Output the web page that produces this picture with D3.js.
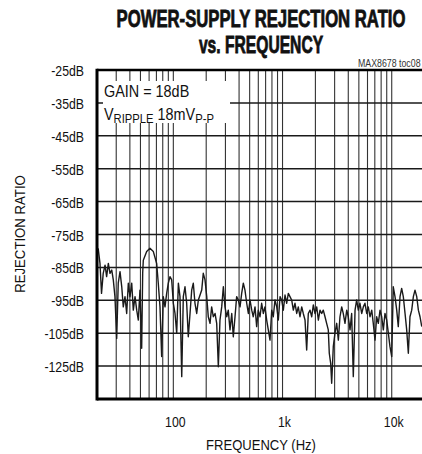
<!DOCTYPE html>
<html><head><meta charset="utf-8">
<script src="https://cdn.jsdelivr.net/npm/d3@7"></script>
<style>
body{margin:0;background:#fff;}
svg{display:block;}
text{font-family:"Liberation Sans",Arial,sans-serif;fill:#111;}
</style></head>
<body>
<svg id="c" width="422" height="454"></svg>
<script>
// ---- data ----
const titleLines = ["POWER-SUPPLY REJECTION RATIO", "vs. FREQUENCY"];
const xTickValues = [100, 1000, 10000];
const xTickLabels = ["100", "1k", "10k"];
const yTickValues = [-25, -35, -45, -55, -65, -75, -85, -95, -105, -115];
const yTickLabels = ["-25dB", "-35dB", "-45dB", "-55dB", "-65dB", "-75dB", "-85dB", "-95dB", "-105dB", "-125dB"];
const xGridValues = [30,40,50,60,70,80,90,100,200,300,400,500,600,700,800,900,1000,2000,3000,4000,5000,6000,7000,8000,9000,10000];
const freq = [20.5,21.3,22.0,22.8,23.7,24.5,25.4,26.3,27.3,28.2,29.2,30.3,31.3,32.5,33.7,34.8,36.1,37.4,38.7,40.1,41.6,43.0,44.6,46.2,47.8,49.5,51.3,52.4,53.1,57.0,61.1,65.6,70.4,72.8,75.5,78.2,80.9,83.9,86.9,90.0,93.2,96.6,100,103.6,107.4,111.2,115.1,119.4,123.4,127.9,132.5,137.1,142.2,147.3,152.4,157.9,163.7,169.5,182,188,195,202.3,209,216.8,224.4,232.3,241,249.5,258.3,267.4,277.4,287.1,297.2,308.4,318.5,330.4,342.8,354.1,367.2,380.1,393.5,408.2,422.6,437.5,452.9,469.9,486.4,503.6,522.4,539.5,559.8,579.5,600,622,644,667,690,716,741,768,796,823,853,885,915,949,982,1017,1054,1092,1130,1170,1213,1256,1301,1349,1394,1445,1499,1549,1607,1664,1722,1786,1850,1915,1982,2056,2129,2204,2285,2361,2449,2535,2625,2680,2761,2819,2917,3021,3133,3245,3358,3483,3598,3732,3873,4000,4150,4296,4448,4614,4775,4943,5117,5309,5495,5689,5902,6096,6325,6561,6777,7031,7278,7534,7818,8093,8377,8672,8994,9311,9638,10000,10330,10715,11112,11480,11912,12330,12766,13243,13709,14193,14693,15241,15777,16334,16943,17541,18158,18836];
const psrr = [-79.2,-83.8,-92.9,-86.8,-84.3,-87.8,-83.8,-86.8,-85.8,-88.8,-93.9,-106.6,-89.8,-86.3,-90.9,-97.0,-93.9,-99.0,-89.8,-93.9,-89.8,-98.0,-93.9,-98.0,-101.0,-91.9,-109.6,-86.8,-82.8,-80.2,-79.2,-80.2,-83.8,-89.8,-97.0,-112.1,-93.9,-97.0,-92.9,-89.8,-87.8,-88.8,-95.9,-99.0,-105.0,-89.8,-93.9,-118.2,-93.9,-90.9,-95.9,-106.1,-99.0,-91.9,-89.8,-95.9,-99.0,-94.9,-91.9,-86.8,-88.8,-93.9,-100.0,-102.0,-97.0,-100.0,-99.0,-102.0,-115.2,-101.0,-97.0,-90.9,-97.0,-100.0,-98.0,-104.0,-99.0,-106.1,-100.0,-93.9,-94.9,-97.0,-92.9,-89.8,-91.9,-95.9,-99.0,-94.9,-98.0,-100.0,-97.0,-103.0,-98.0,-100.0,-95.9,-99.0,-97.0,-101.0,-104.0,-107.1,-98.0,-100.0,-94.9,-97.0,-101.0,-93.9,-94.9,-98.0,-93.4,-95.9,-92.9,-93.9,-94.9,-98.0,-95.9,-99.0,-97.0,-100.0,-97.0,-99.0,-101.0,-110.1,-99.0,-98.0,-100.0,-96.4,-99.0,-97.0,-101.0,-98.0,-99.0,-98.0,-100.0,-102.0,-104.0,-111.1,-114.2,-120.2,-109.1,-105.0,-102.0,-107.1,-100.0,-97.0,-99.0,-102.0,-98.0,-100.0,-104.0,-99.0,-118.2,-98.0,-94.9,-98.0,-95.9,-99.0,-97.0,-95.9,-99.0,-97.0,-100.0,-98.0,-102.0,-107.1,-100.0,-102.0,-98.0,-100.0,-104.0,-99.0,-101.0,-105.0,-109.1,-112.1,-90.9,-93.9,-98.0,-103.0,-93.9,-91.4,-93.9,-99.0,-104.0,-111.1,-100.0,-98.0,-93.9,-91.9,-93.9,-98.0,-100.0,-103.0];
const annotation = {gain: "GAIN = 18dB", ripple: ["V", "RIPPLE", " 18mV", "P-P"]};
const chartId = "MAX8678 toc08";
const xTitle = "FREQUENCY (Hz)";
const yTitle = "REJECTION RATIO";

// ---- layout ----
const L = 97, T = 70, B = 399, R = 424.6;
const svg = d3.select("#c");
const x = d3.scaleLog().domain([20, 20000]).range([L, R]);
const y = d3.scaleLinear().domain([-25, -125]).range([T, B]);

function ctext(sel, px, py, sx, size, anchor) {
  return sel.append("text").attr("transform", `translate(${px},${py}) scale(${sx},1)`)
    .attr("text-anchor", anchor || "start").style("font-size", size + "px");
}

// title
ctext(svg, 261, 27, 0.726, 23, "middle").style("font-weight", "bold")
  .style("stroke", "#111").style("stroke-width", "0.8px").text(titleLines[0]);
ctext(svg, 261, 53, 0.68, 23, "middle").style("font-weight", "bold")
  .style("stroke", "#111").style("stroke-width", "0.8px").text(titleLines[1]);
ctext(svg, 358, 67, 0.88, 10, "start").style("fill", "#333").text(chartId);

// grid
const g = svg.append("g");
g.selectAll("line.v").data(xGridValues).join("line").attr("class", "v")
  .attr("x1", d => x(d)).attr("x2", d => x(d)).attr("y1", T).attr("y2", B)
  .attr("stroke", "#333").attr("stroke-width", 1.1);
g.selectAll("line.h").data(yTickValues.slice(1)).join("line").attr("class", "h")
  .attr("x1", L).attr("x2", 422).attr("y1", d => y(d)).attr("y2", d => y(d))
  .attr("stroke", "#1a1a1a").attr("stroke-width", 1.5);

// annotation box
svg.append("rect").attr("x", 103).attr("y", 81).attr("width", 127).attr("height", 42).attr("fill", "#fff");
ctext(svg, 104, 97, 0.9, 16).text(annotation.gain);
const rt = ctext(svg, 104, 120, 0.9, 16);
rt.append("tspan").text(annotation.ripple[0]);
rt.append("tspan").attr("dy", 3).style("font-size", "12.5px").text(annotation.ripple[1]);
rt.append("tspan").attr("dy", -3).text(annotation.ripple[2]);
rt.append("tspan").attr("dy", 3).style("font-size", "12.5px").text(annotation.ripple[3]);

// trace
const pts = freq.map((f, i) => [f, psrr[i]]);
svg.append("path").datum(pts)
  .attr("d", d3.line().x(d => x(d[0])).y(d => y(d[1])))
  .attr("fill", "none").attr("stroke", "#1a1a1a").attr("stroke-width", 1.4).attr("stroke-linejoin", "round");

// frame
svg.append("line").attr("x1", L).attr("x2", L).attr("y1", T - 1.2).attr("y2", B + 1.5).attr("stroke", "#000").attr("stroke-width", 3);
svg.append("line").attr("x1", L).attr("x2", 422).attr("y1", T).attr("y2", T).attr("stroke", "#000").attr("stroke-width", 2.5);
svg.append("line").attr("x1", L).attr("x2", 422).attr("y1", B).attr("y2", B).attr("stroke", "#000").attr("stroke-width", 3);

// y labels
yTickValues.forEach((v, i) => {
  ctext(svg, 84, y(v) + 6, 0.82, 15, "end").text(yTickLabels[i]);
});
// x labels
xTickValues.forEach((v, i) => {
  ctext(svg, x(v) + 2, 427, 0.82, 15, "middle").text(xTickLabels[i]);
});
// axis titles
ctext(svg, 261, 450, 0.87, 15, "middle").text(xTitle);
svg.append("text").attr("transform", "translate(25,234) rotate(-90) scale(0.88,1)").attr("text-anchor", "middle").style("font-size", "15px").text(yTitle);
</script>
</body></html>
